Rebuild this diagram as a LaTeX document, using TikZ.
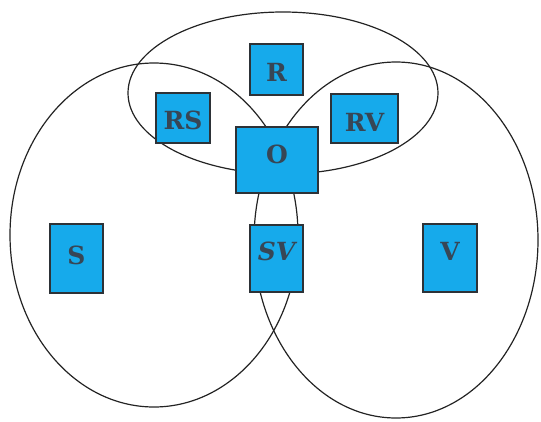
\documentclass[tikz,border=0pt]{standalone}
\usepackage{fontspec}
\newfontfamily\boxfont{DejaVu Serif}
\definecolor{boxblue}{RGB}{22,170,235}
\definecolor{boxline}{RGB}{45,50,55}
\definecolor{boxtext}{RGB}{55,70,85}
\definecolor{curve}{RGB}{35,35,35}
\tikzset{
  setbox/.style={draw=boxline, line width=1.6pt, fill=boxblue, inner sep=0pt,
    font=\boxfont\bfseries\fontsize{25}{25}\selectfont, text=boxtext},
  setcurve/.style={draw=curve, line width=1.2pt}
}
\begin{document}
\begin{tikzpicture}[x=1pt,y=-1pt]
\useasboundingbox (0,0) rectangle (541,421);
% set boundaries
\draw[setcurve] (154,235) ellipse [x radius=144, y radius=172];
\draw[setcurve] (396,240) ellipse [x radius=142, y radius=178];
\draw[setcurve] (283,93) ellipse [x radius=155, y radius=81];
% regions
\node[setbox, minimum width=53pt, minimum height=51pt, text height=24pt, text depth=0pt] (R) at (276.5,69.5) {R};
\node[setbox, minimum width=54pt, minimum height=50pt, text height=23pt, text depth=0pt] (RS) at (183,118) {RS};
\node[setbox, minimum width=67pt, minimum height=49pt, text height=25pt, text depth=0pt] (RV) at (364.5,118.5) {RV};
\node[setbox, minimum width=82pt, minimum height=66pt, text height=18pt, text depth=12pt] (O) at (277,160) {O};
\node[setbox, minimum width=53pt, minimum height=69pt, text height=18pt, text depth=7pt] (S) at (76.5,258.5) {S};
\node[setbox, minimum width=53pt, minimum height=67pt, text height=18pt, text depth=15pt] (SV) at (276.5,258.5) {\itshape SV};
\node[setbox, minimum width=54pt, minimum height=68pt, text height=18pt, text depth=14pt] (V) at (450,258) {V};
\end{tikzpicture}
\end{document}
